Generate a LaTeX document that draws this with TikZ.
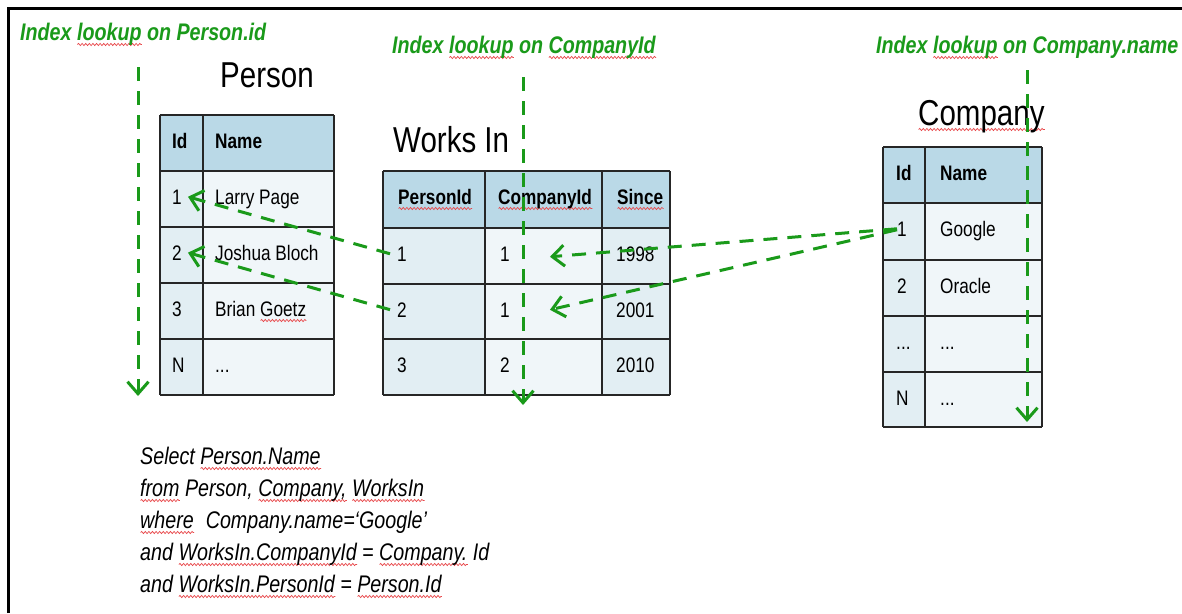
\documentclass[tikz,border=0pt]{standalone}
\usepackage{fontspec}
\setmainfont{Liberation Sans}[FakeStretch=0.82]
\usepackage{xcolor}
\usepackage{tikz}
\usetikzlibrary{arrows.meta,decorations.pathmorphing}
\definecolor{lookgreen}{HTML}{1A9A1A}
\definecolor{headblue}{HTML}{BAD9E7}
\definecolor{keycell}{HTML}{E2EEF3}
\definecolor{datacell}{HTML}{F0F6F9}
\definecolor{spellred}{HTML}{E8474A}

% red wavy underline of a spell checker
\newsavebox\sqbox
\newlength\sqlen
\newcommand\sqw[1]{\sbox\sqbox{#1}\setlength\sqlen{\wd\sqbox}%
  \rlap{\tikz[baseline=0pt,x=1pt,y=1pt]\draw[spellred,line width=.7pt,
    decorate,decoration={snake,amplitude=1.1pt,segment length=3.6pt}]
    (0pt,-4.5pt) -- (\sqlen,-4.5pt);}\usebox\sqbox}

\newcommand\cellfont{\fontsize{21}{25}\selectfont}
\newcommand\titlefont{\fontsize{36}{40}\selectfont}
\newcommand\lookfont{\fontsize{24}{28}\selectfont\bfseries\itshape}
\newcommand\sqlfont{\fontsize{24}{32}\selectfont\itshape}

\tikzset{
  cell/.style={anchor=base west,inner sep=0pt,font=\cellfont},
  hcell/.style={cell,font=\cellfont\bfseries},
  tabletitle/.style={anchor=base west,inner sep=0pt,font=\titlefont},
  lookup/.style={anchor=base west,inner sep=0pt,font=\lookfont,text=lookgreen},
  rule/.style={line width=1.4pt,draw=black!85},
  seek/.style={lookgreen,line width=3pt,dash pattern=on 14pt off 10pt,
    -{Straight Barb[length=12pt,width=21pt]}},
}

\begin{document}
\begin{tikzpicture}[x=1pt,y=-1pt]
  \useasboundingbox (0,0) rectangle (1182,613);
  \fill[white] (0,0) rectangle (1182,613);
  \draw[line width=3pt] (8.5,613) -- (8.5,8) -- (1182,8);

  % Person
  \fill[headblue] (160,115) rectangle (334,171);
  \fill[keycell] (160,171) rectangle (203,395);
  \fill[datacell] (203,171) rectangle (334,395);
  \foreach \y in {115,171,227,283,339,395} \draw[rule] (160,\y) -- (334,\y);
  \foreach \x in {160,203,334} \draw[rule] (\x,115) -- (\x,395);

  \node[tabletitle] (person) at (220,87) {Person};
  \node[hcell] (pidh) at (172,148) {Id};
  \node[hcell] (pnameh) at (215,148) {Name};
  \node[cell] (p1id) at (172,204) {1};
  \node[cell] (p1name) at (215,204) {Larry Page};
  \node[cell] (p2id) at (172,260) {2};
  \node[cell] (p2name) at (215,260) {Joshua Bloch};
  \node[cell] (p3id) at (172,316) {3};
  \node[cell] (p3name) at (215,316) {Brian \sqw{Goetz}};
  \node[cell] (pnid) at (172,372) {N};
  \node[cell] (pnname) at (215,372) {...};

  % Works In
  \fill[headblue] (383,171) rectangle (670,228);
  \fill[keycell] (383,228) rectangle (485,395);
  \fill[datacell] (485,228) rectangle (602,395);
  \fill[keycell] (602,228) rectangle (670,395);
  \foreach \y in {171,228,284,339,395} \draw[rule] (383,\y) -- (670,\y);
  \foreach \x in {383,485,602,670} \draw[rule] (\x,171) -- (\x,395);

  \node[tabletitle] (worksin) at (393,152) {Works In};
  \node[hcell] (wpidh) at (398,204) {\sqw{PersonId}};
  \node[hcell] (wcidh) at (498,204) {\sqw{CompanyId}};
  \node[hcell] (wsinceh) at (617,204) {\sqw{Since}};
  \node[cell] (w1pid) at (397,261) {1};
  \node[cell] (w1cid) at (500,261) {1};
  \node[cell] (w1since) at (616,261) {1998};
  \node[cell] (w2pid) at (397,317) {2};
  \node[cell] (w2cid) at (500,317) {1};
  \node[cell] (w2since) at (616,317) {2001};
  \node[cell] (w3pid) at (397,372) {3};
  \node[cell] (w3cid) at (500,372) {2};
  \node[cell] (w3since) at (616,372) {2010};

  % Company
  \fill[headblue] (883,147) rectangle (1042,203);
  \fill[keycell] (883,203) rectangle (925,427);
  \fill[datacell] (925,203) rectangle (1042,427);
  \foreach \y in {147,203,260,316,372,427} \draw[rule] (883,\y) -- (1042,\y);
  \foreach \x in {883,925,1042} \draw[rule] (\x,147) -- (\x,427);

  \node[tabletitle] (company) at (918,125) {\sqw{Company}};
  \node[hcell] (cidh) at (896,180) {Id};
  \node[hcell] (cnameh) at (940,180) {Name};
  \node[cell] (c1id) at (897,236) {1};
  \node[cell] (c1name) at (940,236) {Google};
  \node[cell] (c2id) at (897,293) {2};
  \node[cell] (c2name) at (940,293) {Oracle};
  \node[cell] (c3id) at (896,349) {...};
  \node[cell] (c3name) at (940,349) {...};
  \node[cell] (cnid) at (896,405) {N};
  \node[cell] (cnname) at (940,405) {...};

  % index lookups
  \node[lookup] (lkperson) at (20,40) {Index \sqw{lookup} on Person.id};
  \node[lookup] (lkworks) at (392,53) {Index \sqw{lookup} on \sqw{CompanyId}};
  \node[lookup] (lkcompany) at (876,53) {Index \sqw{lookup} on Company.name};

  \coordinate (pidtop) at (138,67);
  \coordinate (pidend) at (138,396);
  \coordinate (cidtop) at (523,77);
  \coordinate (cidend) at (523,405);
  \coordinate (cnametop) at (1027,70);
  \coordinate (cnameend) at (1027,422);

  \draw[seek] (pidtop) -- (pidend);
  \draw[seek] (cidtop) -- (cidend);
  \draw[seek] (cnametop) -- (cnameend);

  \draw[seek] ([xshift=-7pt]w1pid.west) -- ([xshift=6pt]p1id.east);
  \draw[seek] ([xshift=-7pt]w2pid.west) -- ([xshift=6pt]p2id.east);
  \draw[seek] (c1id.west) -- ([xshift=40pt,yshift=-3pt]w1cid.east);
  \draw[seek] ([yshift=-1pt]c1id.west) -- ([xshift=40pt]w2cid.east);

  % the query (base is the last line)
  \node[anchor=base west,inner sep=0pt,align=left,font=\sqlfont] (query) at (140,592)
    {Select \sqw{Person.Name}\\
     \sqw{from} Person, \sqw{Company,} \sqw{WorksIn}\\
     \sqw{where}\hspace{12pt}Company.name=‘Google’\\
     and \sqw{WorksIn.CompanyId} = \sqw{Company.} Id\\
     and \sqw{WorksIn.PersonId} = \sqw{Person.Id}};
\end{tikzpicture}
\end{document}
